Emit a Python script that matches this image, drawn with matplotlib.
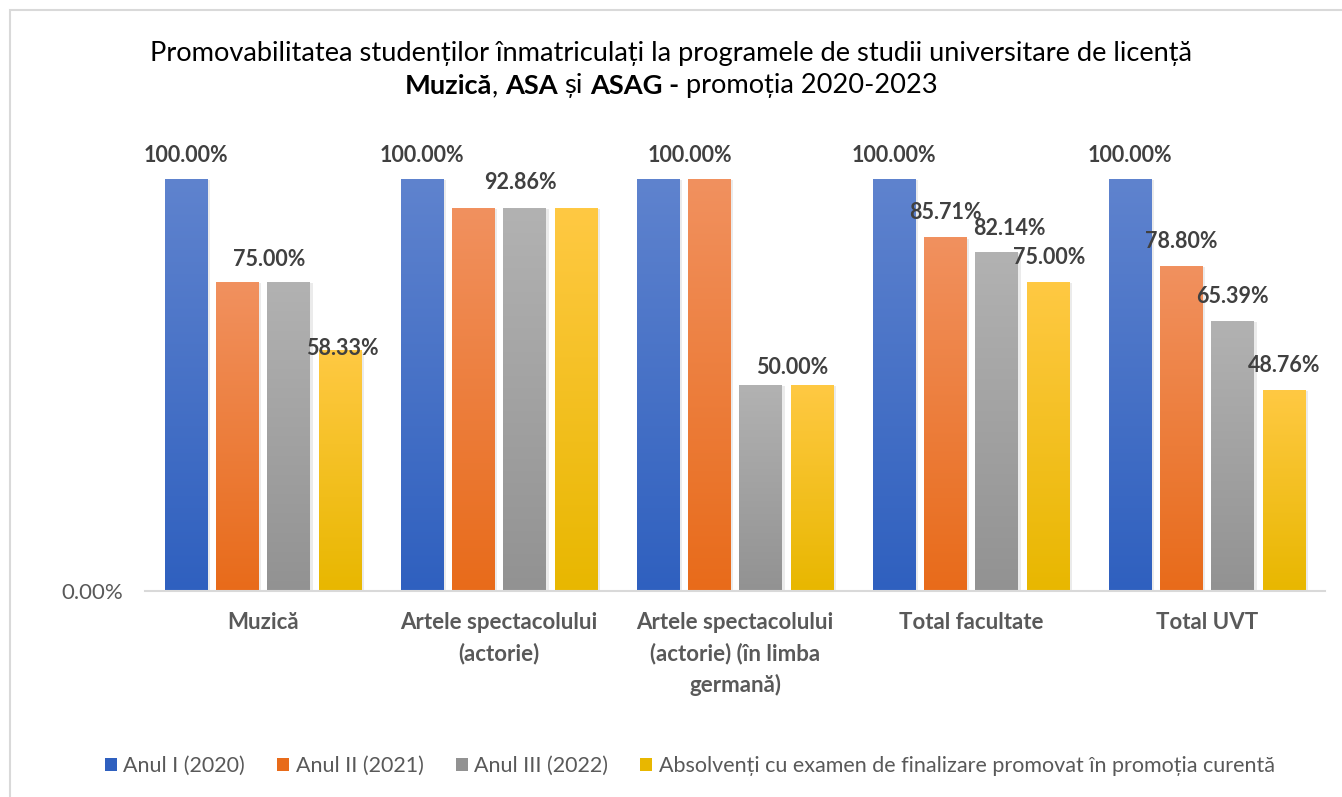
import numpy as np
import matplotlib
matplotlib.use("Agg")
import matplotlib.pyplot as plt
from matplotlib.colors import to_rgb
from matplotlib.patches import Rectangle, Patch

plt.rcParams['font.family'] = ['Lato', 'DejaVu Sans']

categories = ["Muzică",
              "Artele spectacolului\n(actorie)",
              "Artele spectacolului\n(actorie) (în limba\ngermană)",
              "Total facultate",
              "Total UVT"]
series_names = ["Anul I (2020)", "Anul II (2021)", "Anul III (2022)",
                "Absolvenți cu examen de finalizare promovat în promoția curentă"]
anul_1 = [100.00, 100.00, 100.00, 100.00, 100.00]
anul_2 = [75.00, 92.86, 100.00, 85.71, 78.80]
anul_3 = [75.00, 92.86, 50.00, 82.14, 65.39]
absolventi = [58.33, 92.86, 50.00, 75.00, 48.76]
values = [anul_1, anul_2, anul_3, absolventi]

# (top, bottom) colours for the vertical gradient of each series
grad_colors = [("#5F83CE", "#2F60BF"),
               ("#F1915F", "#E86B1A"),
               ("#B2B2B2", "#929292"),
               ("#FFC943", "#E8B700")]

# which labels are shown: (category, series, dx px, dy px)
shown_labels = [(0, 0, 0, 24), (0, 1, 32, 22), (0, 3, 2, 2),
                (1, 0, 0, 24), (1, 2, -4, 26),
                (2, 0, 32, 24), (2, 2, 32, 17),
                (3, 0, 0, 24), (3, 1, 0, 25), (3, 2, 13, 24), (3, 3, 1, 24),
                (4, 0, 0, 24), (4, 1, 0, 25), (4, 2, 0, 25), (4, 3, 0, 25)]

W, H = 1342, 797
fig = plt.figure(figsize=(W / 100, H / 100), dpi=100)
ax = fig.add_axes([145 / W, 206 / H, 1180 / W, 453.2 / H])

x = np.arange(len(categories))
step = 0.2175
width = 0.182
offsets = np.array([-1.5, -0.5, 0.5, 1.5]) * step

for s in range(4):
    bars = ax.bar(x + offsets[s], values[s], width, color='none', zorder=2)
    top, bot = np.array(to_rgb(grad_colors[s][0])), np.array(to_rgb(grad_colors[s][1]))
    t = np.linspace(0, 1, 256)[:, None]
    grad = (top * (1 - t) + bot * t)[:, None, :]
    for r in bars:
        x0, w, h = r.get_x(), r.get_width(), r.get_height()
        # soft shadow behind the bar
        ax.add_patch(Rectangle((x0 + 0.006, -0.3), w + 0.004, h + 0.1,
                               facecolor='#000000', alpha=0.08, lw=0, zorder=1))
        ax.imshow(grad, extent=[x0, x0 + w, 0, h], aspect='auto',
                  interpolation='bilinear', zorder=2)

for c, s, dx, dy in shown_labels:
    v = values[s][c]
    ax.annotate(f"{v:.2f}%", xy=(x[c] + offsets[s], v), xytext=(dx, dy),
                textcoords='offset pixels', ha='center', va='center',
                fontsize=15.5, fontweight='bold', color='#404040', zorder=3)

ax.set_xlim(-0.5, len(categories) - 0.5)
ax.set_ylim(0, 110)
ax.set_xticks(x, categories, fontsize=16, fontweight='bold', color='#595959',
              linespacing=1.55, va='top')
ax.set_yticks([0], ["0.00%"], fontsize=16, color='#595959')
ax.tick_params(axis='both', length=0)
ax.tick_params(axis='x', pad=15)
ax.tick_params(axis='y', pad=16)
for side in ['top', 'right', 'left']:
    ax.spines[side].set_visible(False)
ax.spines['bottom'].set_color('#D9D9D9')
ax.spines['bottom'].set_linewidth(1.5)
ax.spines['bottom'].set_zorder(4)

# outer chart border
fig.add_artist(Rectangle((10 / W, -0.05), 1.2, 1 - 10 / H + 0.05,
                         transform=fig.transFigure, fill=False,
                         edgecolor='#D9D9D9', lw=1.5))

# title, second line has bold parts
fsz = 19.6
fig.text(0.5, 1 - 53 / H, "Promovabilitatea studenților înmatriculați la programele de studii universitare de licență",
         ha='center', va='center', fontsize=fsz, color='black')
renderer = fig.canvas.get_renderer()
pieces = [("Muzică", 'bold', 0), (",", 'normal', 0), ("ASA", 'bold', 1),
          ("și", 'normal', 1), ("ASAG -", 'bold', 1), ("promoția 2020-2023", 'normal', 1)]
y2 = 1 - 86 / H
probe_a = fig.text(0, 0, "a a", fontsize=fsz)
probe_b = fig.text(0, 0, "aa", fontsize=fsz)
space = probe_a.get_window_extent(renderer).width - probe_b.get_window_extent(renderer).width
probe_a.remove()
probe_b.remove()
texts, widths = [], []
for s, wgt, gap in pieces:
    t = fig.text(0, y2, s, fontsize=fsz, fontweight=wgt, va='center', color='black')
    texts.append(t)
    widths.append(t.get_window_extent(renderer).width)
total = sum(widths) + space * sum(p[2] for p in pieces)
xpos = W / 2 - total / 2
for t, wdt, p in zip(texts, widths, pieces):
    xpos += space * p[2]
    t.set_x(xpos / W)
    xpos += wdt

handles = [Patch(facecolor=grad_colors[s][1]) for s in range(4)]
fig.legend(handles, series_names, loc='center', bbox_to_anchor=(0.514, 31 / H),
           ncol=4, frameon=False, fontsize=15.5, labelcolor='#595959',
           handlelength=0.55, handleheight=0.55, handletextpad=0.3, columnspacing=1.5)

fig.savefig("out.png", dpi=100)
